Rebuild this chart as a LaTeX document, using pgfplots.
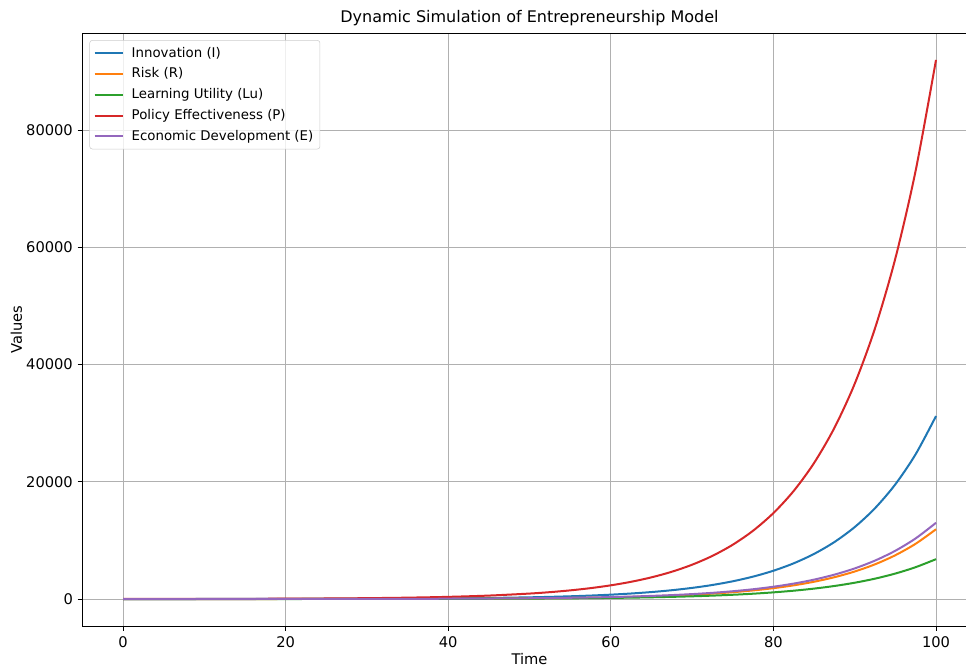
\documentclass[border=0pt]{standalone}
\usepackage{fontspec}
\setmainfont{DejaVu Sans}
\usepackage{pgfplots}
\pgfplotsset{compat=1.18}

\definecolor{mplblue}{HTML}{1F77B4}
\definecolor{mplorange}{HTML}{FF7F0E}
\definecolor{mplgreen}{HTML}{2CA02C}
\definecolor{mplred}{HTML}{D62728}
\definecolor{mplpurple}{HTML}{9467BD}

\begin{document}
\begin{tikzpicture}
\begin{axis}[
    name=ax,
    scale only axis,
    width=662.7pt, height=444.75pt,
    xmin=-5, xmax=103.69,
    ymin=-4605, ymax=96540,
    axis y line*=left,
    xtick={0,20,40,60,80,100},
    ytick={0,20000,40000,60000,80000},
    xtick pos=left, ytick pos=left,
    tick align=outside,
    major tick length=3.6pt,
    every tick/.style={black, line width=0.6pt},
    axis line style={line width=0.6pt},
    grid=major,
    grid style={color=black!31, line width=0.6pt},
    scaled y ticks=false,
    /pgf/number format/1000 sep={},
    /pgf/number format/assume math mode=true,
    tick label style={font=\fontsize{11}{13}\selectfont},
    xticklabel style={yshift=-1pt},
    label style={font=\fontsize{11}{13}\selectfont},
    xlabel={Time},
    ylabel={Values},
    xlabel style={at={(axis description cs:0.506,-0.0556)}, anchor=center},
    ylabel style={at={(axis description cs:-0.0747,0.5)}, anchor=center},
    title={Dynamic Simulation of Entrepreneurship Model},
    every axis title shift=0pt,
    title style={font=\fontsize{12}{14}\selectfont, at={(axis description cs:0.506,1.0253)}, anchor=center, yshift=0pt},
    legend cell align=left,
    legend style={at={(0.008,0.988)}, anchor=north west,
        font=\fontsize{10}{12}\selectfont,
        draw=black!20, rounded corners=2pt, fill=white, fill opacity=0.8, text opacity=1,
        row sep=2.5pt, inner xsep=3pt, inner ysep=3pt},
    legend image code/.code={\draw[#1] (0pt,0pt) -- (21pt,0pt); \path (25pt,0pt);},
    every axis plot/.append style={line width=1.5pt, smooth, no markers},
]
% Innovation (I)
\addplot[mplblue] coordinates {
(0,2.8) (5,4.4) (10,7.0) (15,11.2) (20,17.9) (25,28.5) (30,45.5) (35,72.5)
(40,115.6) (45,184.3) (50,293.9) (52.5,371.1) (55,468.6) (57.5,591.7) (60,747)
(62.5,943.2) (65,1191) (67.5,1504) (70,1899) (72.5,2398) (75,3028) (77.5,3823)
(80,4828) (82.5,6096) (85,7698) (87.5,9720) (90,12273) (92.5,15497)
(95,19569) (97.5,24710) (100,31200)};
\addlegendentry{Innovation (I)}
% Risk (R)
\addplot[mplorange] coordinates {
(0,1.1) (5,1.7) (10,2.8) (15,4.4) (20,7.0) (25,11.1) (30,17.7) (35,28.2)
(40,44.9) (45,71.5) (50,113.8) (52.5,143.6) (55,181.2) (57.5,228.6) (60,288.4)
(62.5,363.9) (65,459) (67.5,579.1) (70,731) (72.5,922.3) (75,1164) (77.5,1468.6)
(80,1853) (82.5,2338) (85,2949) (87.5,3721) (90,4695) (92.5,5924)
(95,7475) (97.5,9431) (100,11900)};
\addlegendentry{Risk (R)}
% Learning Utility (Lu)
\addplot[mplgreen] coordinates {
(0,0.9) (5,1.4) (10,2.2) (15,3.4) (20,5.3) (25,8.3) (30,13.0) (35,20.4)
(40,31.8) (45,49.8) (50,77.8) (52.5,97.3) (55,121.7) (57.5,152.2) (60,190.3)
(62.5,238.0) (65,297.6) (67.5,372.1) (70,465.3) (72.5,581.8) (75,727.6) (77.5,909.8)
(80,1138) (82.5,1423) (85,1779) (87.5,2224) (90,2781) (92.5,3477)
(95,4349) (97.5,5438) (100,6800)};
\addlegendentry{Learning Utility (Lu)}
% Policy Effectiveness (P)
\addplot[mplred] coordinates {
(0,9.5) (5,15.0) (10,23.7) (15,37.6) (20,59.4) (25,94.1) (30,148.9) (35,235.6)
(40,372.8) (45,590) (50,933.6) (52.5,1174) (55,1477) (57.5,1858) (60,2338)
(62.5,2941) (65,3699) (67.5,4653) (70,5854) (72.5,7364) (75,9264) (77.5,11654)
(80,14661) (82.5,18444) (85,23201) (87.5,29187) (90,36716) (92.5,46189)
(95,58104) (97.5,73095) (100,91950)};
\addlegendentry{Policy Effectiveness (P)}
% Economic Development (E)
\addplot[mplpurple] coordinates {
(0,1.4) (5,2.2) (10,3.5) (15,5.6) (20,8.8) (25,13.9) (30,21.9) (35,34.6)
(40,54.6) (45,86.2) (50,136) (52.5,170.8) (55,214.5) (57.5,269.4) (60,338.5)
(62.5,425.2) (65,534) (67.5,670.8) (70,842.6) (72.5,1058.4) (75,1329) (77.5,1669.4)
(80,2098) (82.5,2635) (85,3310) (87.5,4158) (90,5222) (92.5,6559)
(95,8239) (97.5,10349) (100,13000)};
\addlegendentry{Economic Development (E)}
\end{axis}
\pgfresetboundingbox
\path[use as bounding box] ([xshift=-61.76pt,yshift=-30.75pt]ax.south west) rectangle ([yshift=24.75pt]ax.north east);
\end{tikzpicture}
\end{document}
